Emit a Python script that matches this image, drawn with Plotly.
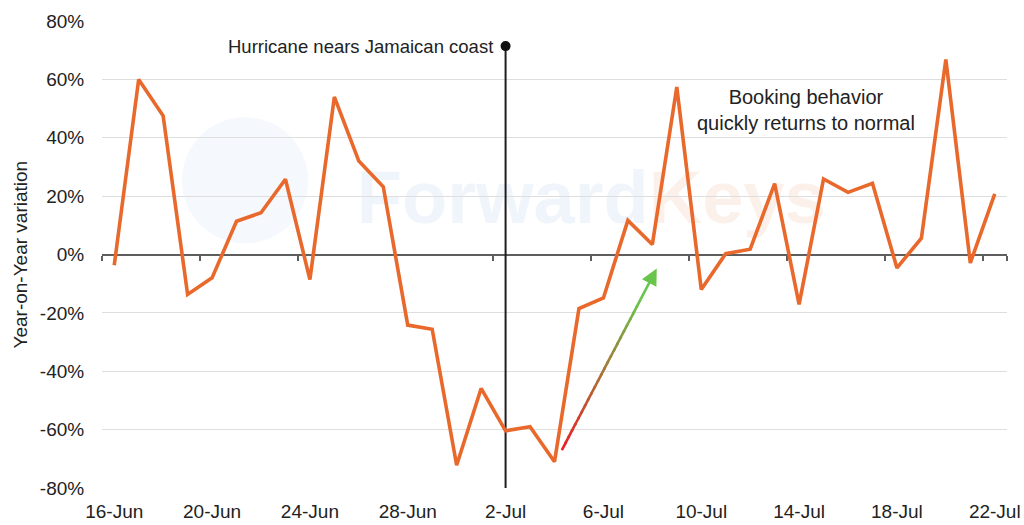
import plotly.graph_objects as go

# ---------------- data ----------------
dates = ["16-Jun", "17-Jun", "18-Jun", "19-Jun", "20-Jun", "21-Jun", "22-Jun",
         "23-Jun", "24-Jun", "25-Jun", "26-Jun", "27-Jun", "28-Jun", "29-Jun",
         "30-Jun", "1-Jul", "2-Jul", "3-Jul", "4-Jul", "5-Jul", "6-Jul",
         "7-Jul", "8-Jul", "9-Jul", "10-Jul", "11-Jul", "12-Jul", "13-Jul",
         "14-Jul", "15-Jul", "16-Jul", "17-Jul", "18-Jul", "19-Jul", "20-Jul",
         "21-Jul", "22-Jul"]
yoy_variation = [-3.7, 60.0, 47.5, -13.7, -8.0, 11.4, 14.3,
                 25.8, -8.6, 54.0, 32.0, 23.2, -24.2, -25.6,
                 -72.2, -45.9, -60.4, -59.0, -71.0, -18.5, -14.9,
                 11.7, 3.4, 57.4, -12.0, 0.3, 1.8, 24.3,
                 -17.1, 25.9, 21.3, 24.4, -4.6, 5.6, 66.8,
                 -2.9, 20.8]
x_tick_labels = dates[::4]
y_ticks = [-80, -60, -40, -20, 0, 20, 40, 60, 80]
y_tick_labels = ["-80%", "-60%", "-40%", "-20%", "0%", "20%", "40%", "60%", "80%"]
y_title = "Year-on-Year variation"
event_date = "2-Jul"
event_label = "Hurricane nears Jamaican coast"
event_top = 71.4
note_text = "Booking behavior<br>quickly returns to normal"
watermark = "<b>Forward<span style='color:#fcf1ea'>Keys</span></b>"

# ---------------- styling ----------------
FONT = "Liberation Sans, Arial, sans-serif"
TXT = "#222222"
ORANGE = "#E8692B"
AXIS_GREY = "#5e5e5e"
GRID = "#dedede"

fig = go.Figure()

# event vertical line + dot
fig.add_trace(go.Scatter(
    x=[event_date, event_date], y=[y_ticks[0], event_top],
    mode="lines", line=dict(color="#1e1e1e", width=2),
    hoverinfo="skip", showlegend=False))
fig.add_trace(go.Scatter(
    x=[event_date], y=[event_top], mode="markers",
    marker=dict(color="#111111", size=10),
    hoverinfo="skip", showlegend=False))

# main series
fig.add_trace(go.Scatter(
    x=dates, y=yoy_variation, mode="lines",
    line=dict(color=ORANGE, width=3.6),
    showlegend=False, name="YoY"))

# invisible trace to build the zero-crossing category axis
fig.add_trace(go.Scatter(
    x=dates, y=yoy_variation, xaxis="x2", yaxis="y", mode="lines",
    line=dict(color="rgba(0,0,0,0)", width=0),
    hoverinfo="skip", showlegend=False))

# ---------------- gradient arrow (red -> green) ----------------
arrow_start = (18.3, -67.0)
arrow_tip = (22.18, -4.8)
red = (236, 28, 36)
green = (104, 196, 74)
n_seg = 24
frac_end = 0.82
shapes = []
for i in range(n_seg):
    t0 = frac_end * i / n_seg
    t1 = frac_end * (i + 1) / n_seg
    tm = (t0 + t1) / 2 / frac_end
    c = tuple(int(round(red[k] + (green[k] - red[k]) * tm)) for k in range(3))
    shapes.append(dict(
        type="line", xref="x", yref="y",
        x0=arrow_start[0] + (arrow_tip[0] - arrow_start[0]) * t0,
        y0=arrow_start[1] + (arrow_tip[1] - arrow_start[1]) * t0,
        x1=arrow_start[0] + (arrow_tip[0] - arrow_start[0]) * (t1 + 0.01),
        y1=arrow_start[1] + (arrow_tip[1] - arrow_start[1]) * (t1 + 0.01),
        line=dict(color="rgb(%d,%d,%d)" % c, width=2.6), layer="above"))

# watermark globe + text
shapes.append(dict(type="circle", xref="x", yref="y",
                   x0=5.35 - 2.58, x1=5.35 + 2.58, y0=25.4 - 21.6, y1=25.4 + 21.6,
                   fillcolor="#f5f8fc", line=dict(width=0), layer="below"))
shapes.append(dict(type="rect", xref="x", yref="y",
                   x0=9.0, x1=30.0, y0=8, y1=36,
                   fillcolor="rgba(0,0,0,0)", line=dict(width=0), layer="below",
                   label=dict(text=watermark, textposition="middle center",
                              font=dict(family=FONT, size=74, color="#f0f5fb"))))

annotations = [
    dict(x=arrow_tip[0], y=arrow_tip[1],
         ax=arrow_start[0] + (arrow_tip[0] - arrow_start[0]) * frac_end,
         ay=arrow_start[1] + (arrow_tip[1] - arrow_start[1]) * frac_end,
         xref="x", yref="y", axref="x", ayref="y",
         showarrow=True, arrowhead=2, arrowsize=1.25, arrowwidth=2.6,
         arrowcolor="rgb(%d,%d,%d)" % green, standoff=0, text=""),
    dict(x=event_date, y=event_top, xref="x", yref="y", text=event_label,
         showarrow=False, xanchor="right", yanchor="middle", xshift=-11,
         font=dict(family=FONT, size=18.5, color=TXT)),
    dict(x=28.3, y=49.5, xref="x", yref="y", text=note_text,
         showarrow=False, xanchor="center", yanchor="middle",
         font=dict(family=FONT, size=20, color=TXT)),
    dict(x=0, y=0.5, xref="paper", yref="paper", text=y_title,
         showarrow=False, textangle=-90, xanchor="center", yanchor="middle",
         xshift=-82, font=dict(family=FONT, size=19, color=TXT)),
]

fig.update_layout(
    width=1024, height=525,
    margin=dict(l=102, r=17, t=21, b=37, autoexpand=False),
    paper_bgcolor="white", plot_bgcolor="white",
    font=dict(family=FONT, color=TXT),
    showlegend=False,
    shapes=shapes,
    annotations=annotations,
    xaxis=dict(
        type="category", categoryorder="array", categoryarray=dates,
        range=[-0.5, len(dates) - 0.5], automargin=False,
        tickmode="array", tickvals=x_tick_labels, ticktext=x_tick_labels,
        ticks="outside", ticklen=6, tickcolor="rgba(0,0,0,0)",
        showgrid=False, showline=False, zeroline=False,
        tickfont=dict(family=FONT, size=19, color=TXT),
        fixedrange=True),
    xaxis2=dict(
        type="category", categoryorder="array", categoryarray=dates,
        overlaying="x", anchor="free", position=0.5, automargin=False,
        range=[-0.5, len(dates) - 0.5],
        tickmode="array", tickvals=x_tick_labels, tickson="boundaries",
        ticks="outside", ticklen=5, tickwidth=1.5, tickcolor=AXIS_GREY,
        showticklabels=False, showgrid=False, zeroline=False,
        showline=True, linecolor=AXIS_GREY, linewidth=2,
        layer="below traces", side="bottom", fixedrange=True),
    yaxis=dict(
        range=[y_ticks[0], y_ticks[-1]], automargin=False,
        tickmode="array", tickvals=y_ticks, ticktext=y_tick_labels,
        ticks="outside", ticklen=13, tickcolor="rgba(0,0,0,0)",
        showgrid=True, gridcolor=GRID, gridwidth=1,
        zeroline=False, showline=False,
        tickfont=dict(family=FONT, size=19, color=TXT),
        fixedrange=True),
)

fig.write_html("out.html")
